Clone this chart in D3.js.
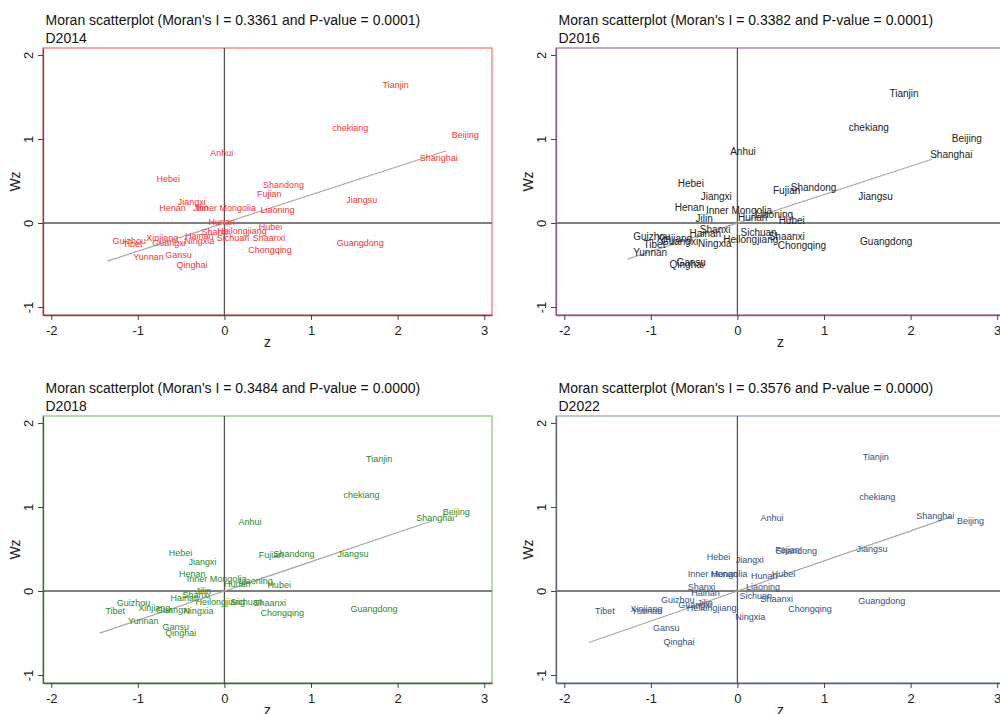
<!DOCTYPE html>
<html>
<head>
<meta charset="utf-8">
<script src="https://cdn.jsdelivr.net/npm/d3@7"></script>
<style>
body { margin: 0; background: #fff; }
svg { font-family: "Liberation Sans", Arial, sans-serif; }
</style>
</head>
<body>
<script>
// province names (same order in every series)
var provinces = ["Beijing","Tianjin","Hebei","Shanxi","Inner Mongolia","Liaoning","Jilin","Heilongjiang",
    "Shanghai","Jiangsu","chekiang","Anhui","Fujian","Jiangxi","Shandong","Henan","Hubei","Hunan",
    "Guangdong","Guangxi","Hainan","Chongqing","Sichuan","Guizhou","Yunnan","Tibet","Shaanxi",
    "Gansu","Qinghai","Ningxia","Xinjiang"];

// z and Wz
var z2014  = [2.58, 1.78, -0.83, -0.31, -0.37, 0.37, -0.41, -0.13, 2.21, 1.36, 1.20, -0.21, 0.33, -0.585, 0.40, -0.80, 0.35, -0.23,
    1.25, -0.88, -0.50, 0.23, -0.135, -1.34, -1.10, -1.22, 0.28, -0.73, -0.60, -0.51, -0.95];
var wz2014 = [1.05, 1.64, 0.53, -0.10, 0.18, 0.155, 0.175, -0.095, 0.77, 0.27, 1.13, 0.83, 0.345, 0.246, 0.45, 0.18, -0.044, 0.008,
    -0.24, -0.24, -0.155, -0.32, -0.18, -0.21, -0.40, -0.25, -0.175, -0.38, -0.50, -0.21, -0.175];

var z2016  = [2.43, 1.71, -0.735, -0.48, -0.41, 0.16, -0.53, -0.21, 2.18, 1.35, 1.24, -0.13, 0.365, -0.47, 0.57, -0.77, 0.43, -0.04,
    1.37, -0.93, -0.60, 0.42, -0.01, -1.25, -1.25, -1.13, 0.315, -0.75, -0.83, -0.50, -0.98];
var wz2016 = [1.01, 1.54, 0.47, -0.075, 0.15, 0.10, 0.056, -0.20, 0.81, 0.32, 1.14, 0.85, 0.385, 0.31, 0.425, 0.19, 0.027, 0.068,
    -0.22, -0.22, -0.12, -0.27, -0.115, -0.16, -0.35, -0.26, -0.16, -0.47, -0.49, -0.24, -0.18];

var z2018  = [2.475, 1.59, -0.69, -0.53, -0.48, 0.12, -0.38, -0.38, 2.17, 1.26, 1.33, 0.115, 0.35, -0.46, 0.52, -0.57, 0.45, -0.05,
    1.41, -0.835, -0.67, 0.37, 0.02, -1.29, -1.16, -1.42, 0.29, -0.76, -0.73, -0.52, -1.04];
var wz2018 = [0.94, 1.57, 0.45, -0.05, 0.14, 0.12, 0.00, -0.13, 0.865, 0.445, 1.14, 0.82, 0.425, 0.345, 0.44, 0.20, 0.07, 0.083,
    -0.21, -0.23, -0.087, -0.255, -0.127, -0.14, -0.357, -0.24, -0.14, -0.425, -0.50, -0.234, -0.20];

var z2022  = [2.49, 1.40, -0.40, -0.62, -0.62, 0.054, -0.51, -0.63, 2.02, 1.33, 1.36, 0.22, 0.39, -0.066, 0.40, -0.35, 0.35, 0.11,
    1.35, -0.73, -0.58, 0.54, -0.023, -0.93, -1.27, -1.69, 0.22, -1.02, -0.90, -0.07, -1.28];
var wz2022 = [0.84, 1.60, 0.405, 0.052, 0.20, 0.048, -0.14, -0.20, 0.90, 0.50, 1.12, 0.87, 0.485, 0.37, 0.476, 0.20, 0.21, 0.183,
    -0.115, -0.16, -0.02, -0.214, -0.052, -0.10, -0.24, -0.24, -0.09, -0.44, -0.61, -0.31, -0.214];

var years = ["D2014", "D2016", "D2018", "D2022"];
var moranI = [0.3361, 0.3382, 0.3484, 0.3576];
var pValues = ["0.0001", "0.0001", "0.0000", "0.0000"];
// x extent of the fitted line in each panel
var fitRange = [[-1.35, 2.56], [-1.27, 2.245], [-1.44, 2.40], [-1.715, 2.476]];
var xTicks = [-2, -1, 0, 1, 2, 3];
var yTicks = [-1, 0, 1, 2];

var zs = [z2014, z2016, z2018, z2022];
var wzs = [wz2014, wz2016, wz2018, wz2022];

// look of each panel
var frameColor = ["#ff6b6b", "#a866a8", "#7cc47c", "#92a6be"];
var axisColor = ["#555", "#8c5a8c", "#555", "#5c6676"];
var labelColor = ["#ff3232", "#222", "#2a8a2a", "#2f4f82"];
var labelSize = [9, 10, 9, 9];
var panelLeft = [43, 556, 43, 556];
var panelTop = [48, 48, 416, 416];

var width = 1000;
var height = 714;
var pw = 449, ph = 267;

var svg = d3.select("body")
    .append("svg")
    .attr("width", width)
    .attr("height", height);

var x = d3.scaleLinear().domain([-2.095, 3.09]).range([0, pw]);
var y = d3.scaleLinear().domain([-1.095, 2.083]).range([ph, 0]);

years.forEach(function(yr, k) {
    var g = svg.append("g")
        .attr("transform", "translate(" + panelLeft[k] + "," + panelTop[k] + ")");

    // titles
    g.append("text")
        .attr("x", 2.5).attr("y", -23)
        .attr("font-size", 14).attr("fill", "#111")
        .text("Moran scatterplot (Moran's I = " + moranI[k].toFixed(4) + " and P-value = " + pValues[k] + ")");
    g.append("text")
        .attr("x", 2.5).attr("y", -5)
        .attr("font-size", 14).attr("fill", "#111")
        .text(yr);

    // plot frame
    g.append("rect")
        .attr("width", pw).attr("height", ph)
        .attr("fill", "none")
        .attr("stroke", frameColor[k])
        .attr("stroke-width", 1.2);

    // zero lines
    g.append("line")
        .attr("x1", x(0)).attr("x2", x(0))
        .attr("y1", 0).attr("y2", ph)
        .attr("stroke", "#555").attr("stroke-width", 1.3);
    g.append("line")
        .attr("x1", 0).attr("x2", pw)
        .attr("y1", y(0)).attr("y2", y(0))
        .attr("stroke", "#555").attr("stroke-width", 1.3);

    // fitted line, slope = Moran's I
    var r = fitRange[k];
    g.append("line")
        .attr("x1", x(r[0])).attr("y1", y(r[0] * moranI[k]))
        .attr("x2", x(r[1])).attr("y2", y(r[1] * moranI[k]))
        .attr("stroke", "#a8a8a8").attr("stroke-width", 1.2);

    // province labels
    g.selectAll("text.lab")
        .data(provinces)
        .enter().append("text")
        .attr("class", "lab")
        .attr("x", function(d, i) { return x(zs[k][i]) + 4; })
        .attr("y", function(d, i) { return y(wzs[k][i]); })
        .attr("dy", "0.35em")
        .attr("font-size", labelSize[k])
        .attr("fill", labelColor[k])
        .text(function(d) { return d; });

    // axes
    var ax = g.append("g")
        .attr("transform", "translate(0," + ph + ")")
        .call(d3.axisBottom(x).tickValues(xTicks).tickSize(5).tickSizeOuter(0)
            .tickFormat(function(v) { return v < 0 ? "-" + Math.abs(v) : v; }));
    ax.select(".domain").attr("stroke", axisColor[k]).attr("stroke-width", 1.3);
    ax.selectAll(".tick line").attr("stroke", "#444");
    ax.selectAll(".tick text")
        .attr("y", 20).attr("dy", 0)
        .attr("font-size", 13).attr("fill", "#222")
        .attr("font-family", "Liberation Sans, Arial, sans-serif");

    var ay = g.append("g")
        .call(d3.axisLeft(y).tickValues(yTicks).tickSize(5).tickSizeOuter(0)
            .tickFormat(function(v) { return v < 0 ? "-" + Math.abs(v) : v; }));
    ay.select(".domain").attr("stroke", axisColor[k]).attr("stroke-width", 1.3);
    ay.selectAll(".tick line").attr("stroke", "#444");
    ay.selectAll(".tick text")
        .attr("x", 0).attr("dy", 0)
        .attr("text-anchor", "middle")
        .attr("transform", "translate(-10.5,0) rotate(-90)")
        .attr("font-size", 13).attr("fill", "#222")
        .attr("font-family", "Liberation Sans, Arial, sans-serif");

    // axis titles
    g.append("text")
        .attr("x", pw / 2).attr("y", ph + 32)
        .attr("text-anchor", "middle")
        .attr("font-size", 14).attr("fill", "#222")
        .text("z");
    g.append("text")
        .attr("transform", "translate(-23," + (ph / 2) + ") rotate(-90)")
        .attr("text-anchor", "middle")
        .attr("font-size", 14).attr("fill", "#222")
        .text("Wz");
});
</script>
</body>
</html>
